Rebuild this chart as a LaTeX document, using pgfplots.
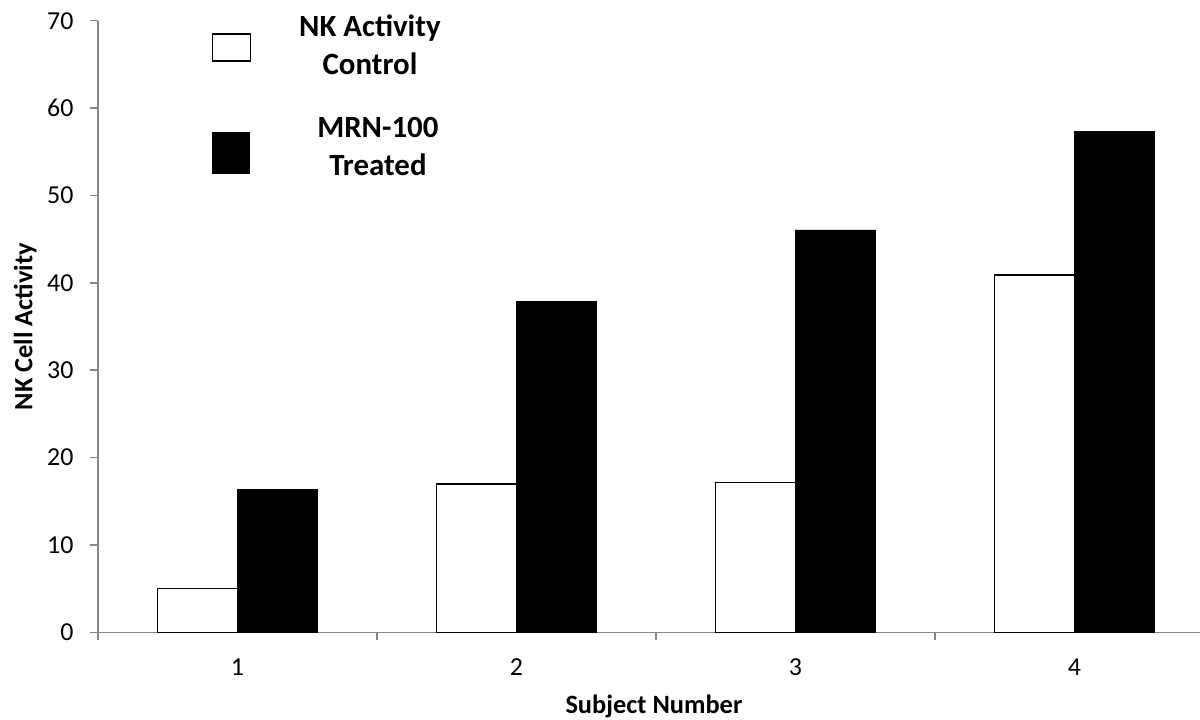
\documentclass[border=0pt]{standalone}
\usepackage{pgfplots}
\pgfplotsset{compat=1.18}
\usepackage{fontspec}
\setmainfont{Carlito}
\definecolor{axgray}{HTML}{868686}
\begin{document}
\begin{tikzpicture}
\useasboundingbox (0,0) rectangle (1200bp,720bp);
\begin{axis}[
  at={(98bp,87.7bp)}, anchor=south west,
  scale only axis, width=1102bp, height=611.6bp,
  xmin=-0.5, xmax=3.45, ymin=0, ymax=70,
  ytick={0,10,...,70},
  xtick={-0.5,0.5,1.5,2.5}, xticklabels={},
  extra x ticks={0,1,2,3}, extra x tick labels={1,2,3,4},
  extra x tick style={major tick length=0pt, grid=none,
    xticklabel style={yshift=-23bp}},
  tick align=outside, major tick length=8bp,
  axis x line*=bottom, axis y line*=left,
  axis line style={draw=axgray, line width=1.5bp, -},
  tick style={draw=axgray, line width=1.5bp},
  /pgf/number format/assume math mode=true,
  tick label style={font=\fontsize{26}{30}\selectfont},
  yticklabel style={anchor=east, xshift=-13bp},
  xlabel={Subject Number}, ylabel={NK Cell Activity},
  xlabel style={font=\bfseries\fontsize{26.5}{30}\selectfont,
    at={(axis description cs:0.5045,-0.122)}, anchor=center},
  ylabel style={font=\bfseries\fontsize{26.5}{32}\selectfont,
    at={(axis description cs:-0.0662,0.5)}, anchor=center},
  legend style={at={(rel axis cs:0,1)}, anchor=north west, xshift=114bp, yshift=4bp,
    draw=none, fill=none, inner sep=0pt, row sep=12bp, column sep=87bp,
    font=\bfseries\fontsize{31}{36}\selectfont,
    cells={anchor=base},
    nodes={anchor=base, inner sep=0pt, text height=20bp, text depth=6bp}},
]
\addplot[ybar, bar width=80bp, bar shift=-40bp, draw=black, fill=white, line width=1.3bp,
  legend image code/.code={\draw[overlay, black, fill=white, line width=1.3bp] (0bp,3bp) rectangle (38bp,-24bp);}]
  coordinates {(0,5.0) (1,16.97) (2,17.17) (3,40.9)};
\addlegendentry{NK Activity}
\addlegendimage{legend image code/.code={}}
\addlegendentry[text depth=31bp]{Control}
\addplot[ybar, bar width=80bp, bar shift=40bp, draw=black, fill=black, line width=0.8bp,
  legend image code/.code={\draw[overlay, black, fill=black, line width=0.8bp] (0bp,5bp) rectangle (37bp,-36bp);}]
  coordinates {(0,16.35) (1,37.84) (2,46.05) (3,57.3)};
\addlegendentry[xshift=8bp]{MRN-100}
\addlegendimage{legend image code/.code={}}
\addlegendentry[xshift=8bp]{Treated}
\end{axis}
\end{tikzpicture}
\end{document}
